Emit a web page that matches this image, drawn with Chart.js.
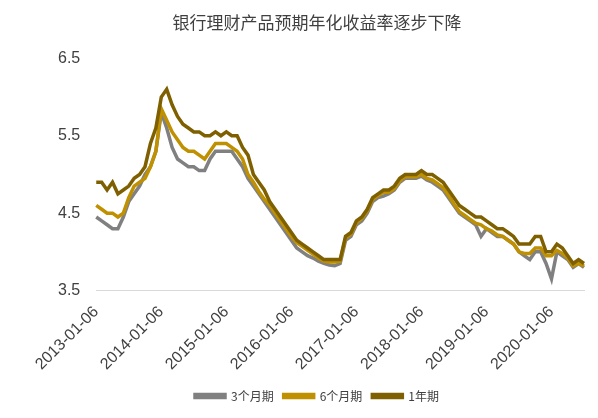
<!DOCTYPE html>
<html>
<head>
<meta charset="utf-8">
<script src="https://cdn.jsdelivr.net/npm/chart.js@4/dist/chart.umd.min.js"></script>
<style>
  body { margin: 0; background: #fff; }
  #wrap { width: 598px; height: 418px; }
</style>
</head>
<body>
<div id="wrap"><canvas id="myChart"></canvas></div>
<script>
// monthly labels 2013-01 .. 2020-07
let dates = []
for (let y = 2013; y <= 2020; y++) {
    for (let m = 1; m <= 12; m++) {
        if (y == 2020 && m > 7) break
        dates.push(y + '-' + (m < 10 ? '0' + m : m) + '-06')
    }
}

let yTicks = [3.5, 4.5, 5.5, 6.5]

let m3 = [4.45,4.4,4.35,4.3,4.3,4.45,4.65,4.75,4.85,5.0,5.1,5.3,
    5.8,5.6,5.35,5.2,5.15,5.1,5.1,5.05,5.05,5.2,5.3,5.3,
    5.3,5.3,5.2,5.1,4.95,4.85,4.75,4.65,4.55,4.45,4.35,4.25,
    4.15,4.05,4.0,3.95,3.92,3.88,3.85,3.83,3.82,3.85,4.15,4.2,
    4.35,4.4,4.5,4.65,4.7,4.72,4.75,4.8,4.9,4.95,4.95,4.95,
    4.98,4.93,4.9,4.85,4.8,4.7,4.6,4.5,4.45,4.4,4.35,4.2,
    4.3,4.25,4.2,4.2,4.15,4.1,4.0,3.95,3.9,4.0,4.0,3.85,
    3.65,4.0,3.95,3.9,3.8,3.85,3.8]

let m6 = [4.6,4.55,4.5,4.5,4.45,4.5,4.7,4.85,4.9,4.95,5.1,5.3,
    5.85,5.7,5.55,5.45,5.35,5.3,5.3,5.25,5.2,5.3,5.4,5.4,
    5.4,5.35,5.3,5.2,5.0,4.9,4.78,4.68,4.6,4.5,4.4,4.3,
    4.2,4.12,4.07,4.02,3.97,3.92,3.88,3.87,3.87,3.88,4.18,4.23,
    4.38,4.43,4.53,4.68,4.73,4.77,4.77,4.82,4.92,4.97,4.97,4.97,
    5.0,4.95,4.93,4.88,4.83,4.73,4.62,4.52,4.47,4.42,4.37,4.35,
    4.3,4.27,4.22,4.2,4.15,4.1,4.0,3.98,3.98,4.05,4.05,3.95,
    3.95,4.02,3.98,3.92,3.82,3.85,3.82]

let y1 = [4.9,4.9,4.8,4.9,4.75,4.8,4.85,4.95,5.0,5.1,5.4,5.6,
    6.0,6.1,5.9,5.75,5.65,5.6,5.55,5.55,5.5,5.5,5.55,5.5,
    5.55,5.5,5.5,5.35,5.25,5.0,4.9,4.8,4.65,4.55,4.45,4.35,
    4.25,4.15,4.1,4.05,4.0,3.95,3.9,3.9,3.9,3.9,4.2,4.25,
    4.4,4.45,4.55,4.7,4.75,4.8,4.8,4.85,4.95,5.0,5.0,5.0,
    5.05,5.0,5.0,4.95,4.9,4.8,4.7,4.6,4.55,4.5,4.45,4.45,
    4.4,4.35,4.3,4.3,4.25,4.2,4.1,4.1,4.1,4.2,4.2,4.0,
    4.0,4.1,4.05,3.95,3.85,3.9,3.85]

var ctx = document.getElementById('myChart').getContext('2d')
var chart = new Chart(ctx, {
    type: 'line',
    data: {
        labels: dates,
        datasets: [
            { label: '3个月期', data: m3, borderColor: '#808080', backgroundColor: '#808080', order: 3 },
            { label: '6个月期', data: m6, borderColor: '#bf9000', backgroundColor: '#bf9000', order: 2 },
            { label: '1年期', data: y1, borderColor: '#7f6000', backgroundColor: '#7f6000', order: 1 }
        ]
    },
    options: {
        responsive: true,
        maintainAspectRatio: false,
        animation: false,
        layout: { padding: { left: 50, right: 14, top: 4, bottom: 6 } },
        elements: {
            point: { radius: 0 },
            line: { borderWidth: 3.5, tension: 0 }
        },
        plugins: {
            title: {
                display: true,
                text: '银行理财产品预期年化收益率逐步下降',
                color: '#404040',
                font: { size: 17, weight: 'normal', family: 'Noto Sans CJK SC' },
                padding: { top: 8, bottom: 26 }
            },
            legend: {
                position: 'bottom',
                labels: {
                    boxWidth: 30, boxHeight: 3,
                    color: '#404040',
                    font: { size: 12, family: 'Noto Sans CJK SC' },
                    sort: function (a, b) { return a.datasetIndex - b.datasetIndex }
                }
            }
        },
        scales: {
            x: {
                grid: { display: false, drawTicks: true, tickLength: 6 },
                border: { color: '#d9d9d9' },
                ticks: {
                    autoSkip: false,
                    maxRotation: 45, minRotation: 45,
                    padding: 6,
                    color: '#404040',
                    font: { size: 16, family: 'Liberation Sans' },
                    callback: function (v) { return dates[v] }
                },
                afterBuildTicks: function (axis) {
                    axis.ticks = axis.ticks.filter(function (t) { return t.value % 12 == 0 })
                }
            },
            y: {
                min: 3.5, max: 6.5,
                grid: { display: false },
                border: { display: false },
                afterBuildTicks: function (axis) {
                    axis.ticks = yTicks.map(function (v) { return { value: v } })
                },
                ticks: {
                    color: '#404040',
                    padding: 8,
                    font: { size: 16, family: 'Liberation Sans' },
                    callback: function (v) { return v.toFixed(1) }
                }
            }
        }
    }
})
</script>
</body>
</html>
